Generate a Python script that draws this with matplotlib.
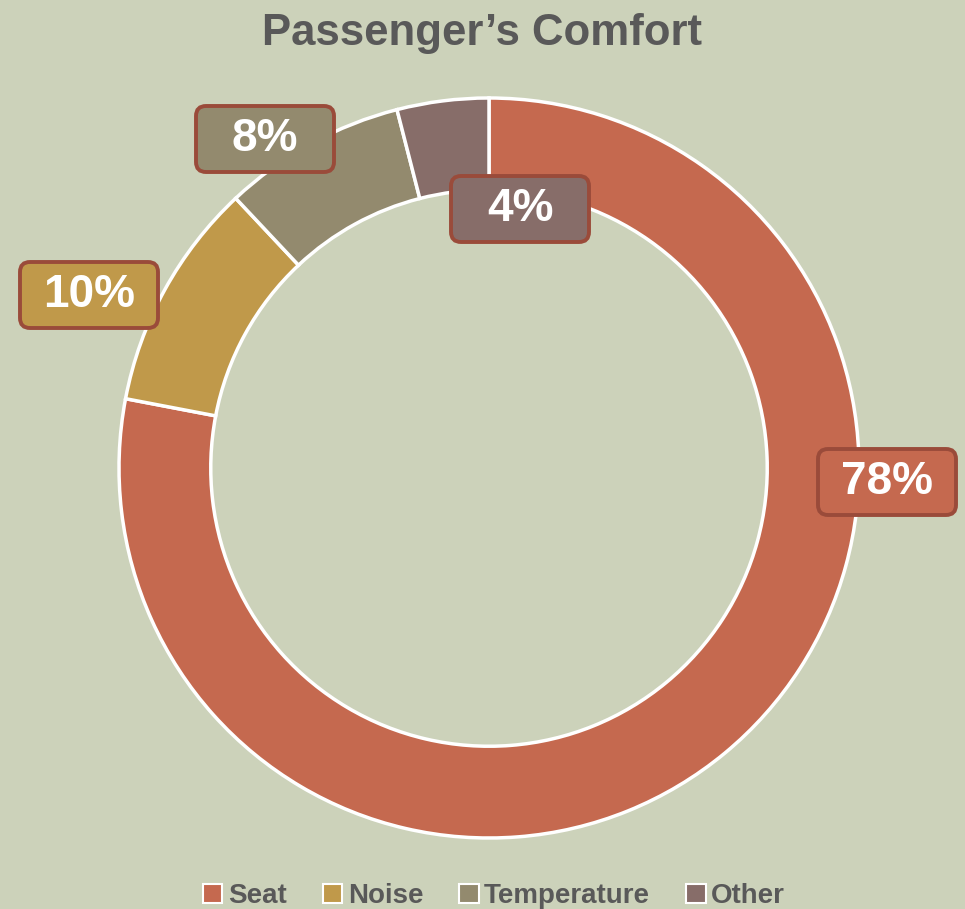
import matplotlib.pyplot as plt
from matplotlib.patches import Patch, FancyBboxPatch

names = ["Seat", "Noise", "Temperature", "Other"]
values = [78, 10, 8, 4]
labels = ["78%", "10%", "8%", "4%"]
colors = ["#C5694F", "#C0994A", "#938A6E", "#876D69"]
bg = "#CCD2BA"

W, H = 965, 909
fig = plt.figure(figsize=(W / 100, H / 100), dpi=100, facecolor=bg)
ax = fig.add_axes([0, 0, 1, 1])
ax.set_facecolor(bg)
ax.axis("off")

cx, cy, r = 489, H - 468, 370
wedges, _ = ax.pie(values, colors=colors, startangle=90, counterclock=False,
                   center=(cx, cy), radius=r,
                   wedgeprops=dict(width=r * 0.248, edgecolor="white", linewidth=2.5))
ax.set_xlim(0, W)
ax.set_ylim(0, H)
ax.set_aspect("equal")

# label box centres (pixel, from top), boxes are a fixed size
lab_pos = [(887, 482), (89, 295), (265, 139), (520, 209)]
bw, bh = 138, 66
for (px, py), txt, c in zip(lab_pos, labels, colors):
    ax.add_patch(FancyBboxPatch((px - bw / 2, H - py - bh / 2), bw, bh,
                                boxstyle="round,pad=0,rounding_size=10",
                                fc=c, ec="#9A4B3A", lw=2.8, zorder=3))
    ax.text(px, H - py, txt, ha="center", va="center", fontsize=33, color="white",
            fontweight="bold", family="Liberation Sans", zorder=4)

fig.text(0.5, 1 - 33 / H, "Passenger\u2019s Comfort", ha="center", va="center",
         fontsize=31.5, fontweight="bold", color="#595959", family="Liberation Sans")

handles = [Patch(facecolor=c, edgecolor="white", linewidth=1.5) for c in colors]
leg = fig.legend(handles, names, loc="center", bbox_to_anchor=(494 / W, 1 - 896 / H),
                 ncol=4, frameon=False, handlelength=0.7, handleheight=0.7,
                 handletextpad=0.2, columnspacing=1.3,
                 prop=dict(family="Liberation Sans", size=20, weight="bold"))
for t in leg.get_texts():
    t.set_color("#595959")

fig.savefig("out.png", dpi=100, facecolor=bg)
